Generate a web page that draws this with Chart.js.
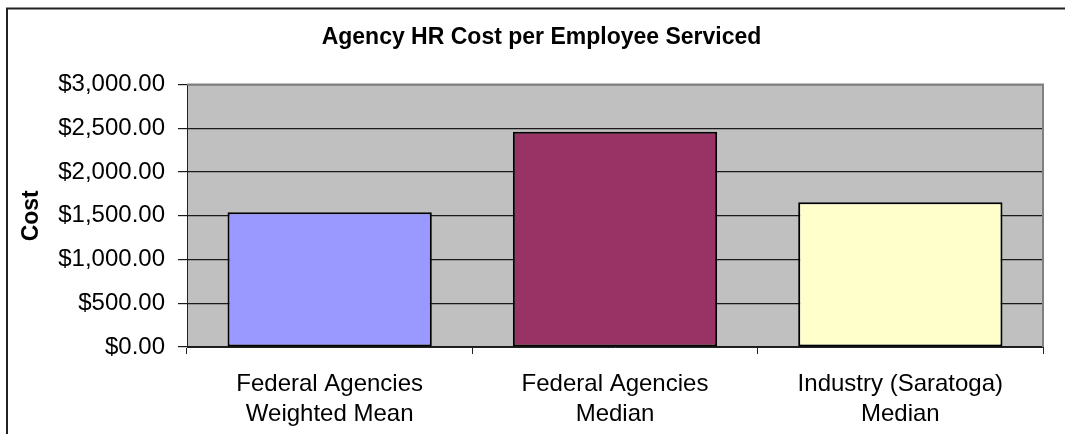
<!DOCTYPE html>
<html>
<head>
<meta charset="utf-8">
<script src="https://cdn.jsdelivr.net/npm/chart.js@4/dist/chart.umd.min.js"></script>
<style>
  html, body { margin: 0; padding: 0; background: #ffffff; }
  #wrap { width: 1065px; height: 434px; position: relative; }
</style>
</head>
<body>
<div id="wrap"><canvas id="c" width="1065" height="434"></canvas></div>
<script>
// ---- data ----
const chartTitle = 'Agency HR Cost per Employee Serviced';
const yAxisTitle = 'Cost';
const categories = [
  ['Federal Agencies', 'Weighted Mean'],
  ['Federal Agencies', 'Median'],
  ['Industry (Saratoga)', 'Median']
];
const costValues = [1540, 2460, 1655];
const barColors = ['#9999FF', '#993366', '#FFFFCC'];
const yMin = 0;
const yMax = 3000;
const yStep = 500;

const FONT = "'Liberation Sans', Arial, sans-serif";

const framePlugin = {
  id: 'frame',
  beforeDraw(chart) {
    const { ctx, chartArea: a } = chart;
    ctx.save();
    ctx.fillStyle = '#C0C0C0';
    ctx.fillRect(a.left, a.top, a.right - a.left, a.bottom - a.top);
    ctx.restore();
  },
  beforeDatasetsDraw(chart) {
    const { ctx, chartArea: a } = chart;
    ctx.save();
    ctx.strokeStyle = '#808080';
    ctx.lineWidth = 2;
    ctx.beginPath();
    ctx.moveTo(a.left, a.top);
    ctx.lineTo(a.right, a.top);
    ctx.lineTo(a.right, a.bottom);
    ctx.stroke();
    ctx.restore();
  },
  afterDraw(chart) {
    const { ctx } = chart;
    ctx.save();
    ctx.strokeStyle = '#222222';
    ctx.lineWidth = 2;
    ctx.strokeRect(7, 8.5, 1200, 600);
    ctx.restore();
  }
};

new Chart(document.getElementById('c'), {
  type: 'bar',
  data: {
    labels: categories,
    datasets: [{
      data: costValues,
      backgroundColor: barColors,
      borderColor: '#000000',
      borderWidth: 2,
      borderSkipped: false,
      categoryPercentage: 1.0,
      barPercentage: 0.716
    }]
  },
  options: {
    responsive: false,
    animation: false,
    devicePixelRatio: 1,
    layout: { padding: { left: 18, right: 0, top: 0, bottom: 0 } },
    plugins: {
      legend: { display: false },
      tooltip: { enabled: false },
      title: {
        display: true,
        text: chartTitle,
        color: '#000000',
        font: { family: FONT, size: 23, weight: 'bold', lineHeight: 1.2 },
        padding: { top: 24, bottom: 33 }
      }
    },
    scales: {
      x: {
        grid: {
          display: true,
          drawOnChartArea: false,
          drawTicks: true,
          tickLength: 7,
          color: '#222222',
          offset: true
        },
        border: { display: true, color: '#222222', width: 1 },
        ticks: {
          color: '#000000',
          font: { family: FONT, size: 24, lineHeight: 1.25 },
          padding: 15,
          maxRotation: 0,
          autoSkip: false
        },
        afterFit(s) { s.height = 87; }
      },
      y: {
        min: yMin,
        max: yMax,
        grid: {
          color: '#1a1a1a',
          lineWidth: 1.2,
          tickLength: 9,
          drawTicks: true
        },
        border: { display: true, color: '#222222', width: 1 },
        ticks: {
          stepSize: yStep,
          color: '#000000',
          font: { family: FONT, size: 24 },
          padding: 13,
          callback: v => '$' + Number(v).toLocaleString('en-US', { minimumFractionDigits: 2, maximumFractionDigits: 2 })
        },
        title: {
          display: true,
          text: yAxisTitle,
          color: '#000000',
          font: { family: FONT, size: 23, weight: 'bold', lineHeight: 1.2 },
          padding: { top: 0, bottom: 0 }
        },
        afterFit(s) { s.width = 169; }
      },
      y2: {
        position: 'right',
        display: true,
        grid: { display: false, drawTicks: false },
        border: { display: false },
        ticks: { display: false },
        afterFit(s) { s.width = 22; }
      }
    }
  },
  plugins: [framePlugin]
});
</script>
</body>
</html>
